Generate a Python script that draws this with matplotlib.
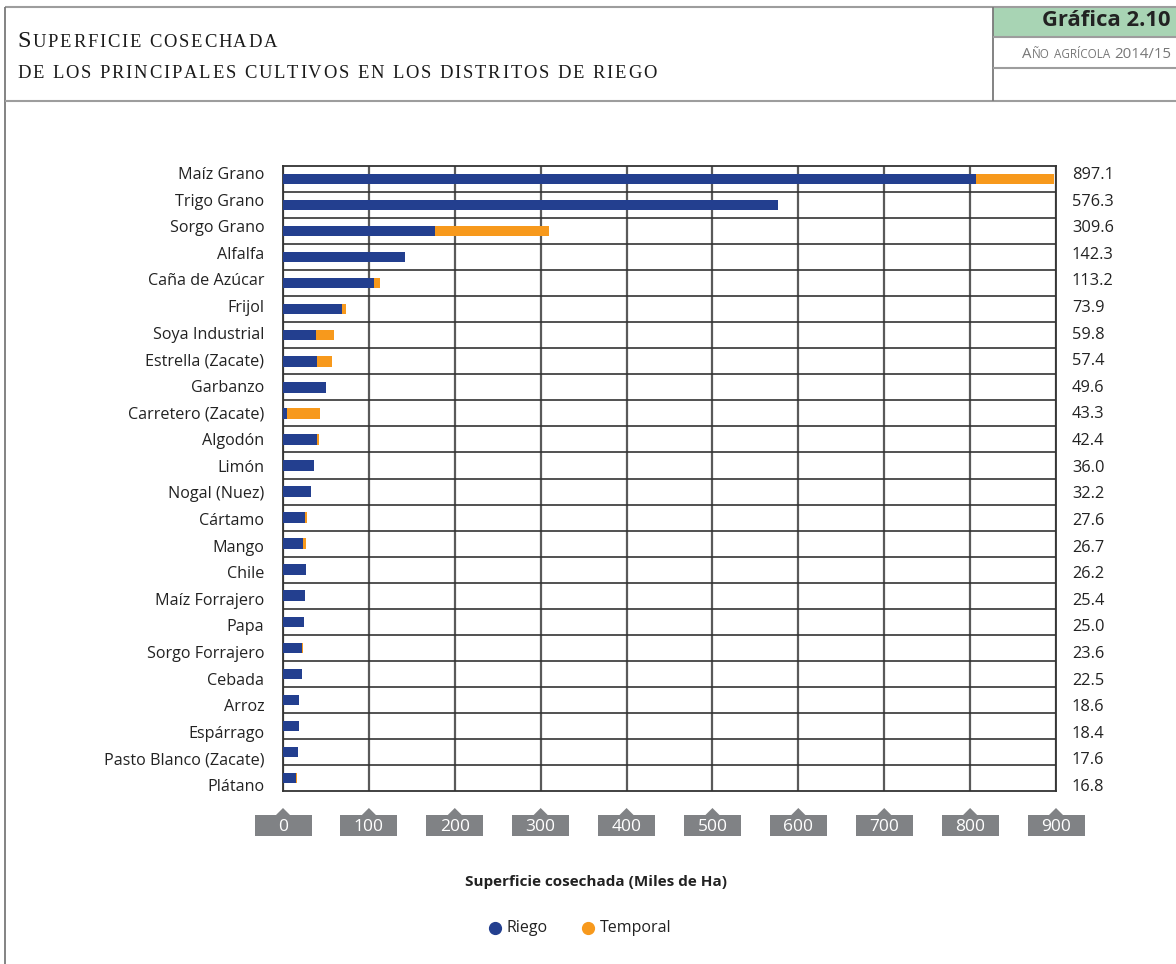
import matplotlib
matplotlib.use('Agg')
import matplotlib.pyplot as plt
from matplotlib.patches import Rectangle, Polygon
from matplotlib.lines import Line2D
import matplotlib.transforms as mtransforms

# ---------------- data ----------------
categories = ["Maíz Grano", "Trigo Grano", "Sorgo Grano", "Alfalfa", "Caña de Azúcar",
              "Frijol", "Soya Industrial", "Estrella (Zacate)", "Garbanzo",
              "Carretero (Zacate)", "Algodón", "Limón", "Nogal (Nuez)", "Cártamo",
              "Mango", "Chile", "Maíz Forrajero", "Papa", "Sorgo Forrajero", "Cebada",
              "Arroz", "Espárrago", "Pasto Blanco (Zacate)", "Plátano"]
totals = [897.1, 576.3, 309.6, 142.3, 113.2, 73.9, 59.8, 57.4, 49.6, 43.3, 42.4, 36.0,
          32.2, 27.6, 26.7, 26.2, 25.4, 25.0, 23.6, 22.5, 18.6, 18.4, 17.6, 16.8]
riego = [806.5, 576.3, 177.0, 142.3, 106.0, 69.0, 38.5, 39.6, 49.6, 4.3, 40.0, 36.0,
         32.2, 25.6, 23.3, 26.2, 25.1, 25.0, 22.4, 22.5, 18.6, 18.4, 17.6, 15.5]
temporal = [90.6, 0.0, 132.6, 0.0, 7.2, 4.9, 21.3, 17.8, 0.0, 39.0, 2.4, 0.0,
            0.0, 2.0, 3.4, 0.0, 0.3, 0.0, 1.2, 0.0, 0.0, 0.0, 0.0, 1.3]
series_names = ["Riego", "Temporal"]
xticks = [0, 100, 200, 300, 400, 500, 600, 700, 800, 900]
x_title = "Superficie cosechada (Miles de Ha)"
chart_no = "Gráfica 2.10"

BLUE = "#233f8f"
ORANGE = "#f7991c"
GREEN = "#a8d4b4"
FONT = "Open Sans"

W, H = 1176, 964
fig = plt.figure(figsize=(W / 100, H / 100), dpi=100)


def fx(px):
    return px / W


def fy(py):
    return 1 - py / H


def line(x0, y0, x1, y1, color="#9d9d9d", lw=1.5):
    fig.add_artist(Line2D([fx(x0), fx(x1)], [fy(y0), fy(y1)], color=color, lw=lw,
                          transform=fig.transFigure, solid_capstyle="butt"))


# ---------------- header frame ----------------
fig.add_artist(Rectangle((fx(993), fy(37)), fx(1176) - fx(993), fy(7) - fy(37),
                         transform=fig.transFigure, facecolor=GREEN, edgecolor="none"))
line(4.5, 7, 1176, 7)
line(4.5, 7, 4.5, 964, color="#7a7a7a", lw=1.3)
line(4.5, 101, 1176, 101)
line(993, 7, 993, 101, color="#7a7a7a", lw=1.3)
line(993, 37, 1176, 37)
line(993, 68, 1176, 68)

renderer = fig.canvas.get_renderer()


def draw_pieces(pieces, x, y, ha="left", color="#222222", family="Liberation Serif",
                weight="normal"):
    """pieces: list of (text, size, gap_after_px)"""
    arts = []
    widths = []
    for s, size, gap in pieces:
        t = fig.text(0, 0, s, fontsize=size, family=family, color=color,
                     va="baseline", ha="left", weight=weight)
        bb = t.get_window_extent(renderer)
        arts.append(t)
        widths.append(bb.width + gap)
    total = sum(widths)
    cur = x if ha == "left" else x - total
    for t, w in zip(arts, widths):
        t.set_position((fx(cur), fy(y)))
        cur += w


def spaced(text, size, track, space, big_first=None):
    """Split a string into per-character pieces with letter tracking."""
    out = []
    for i, ch in enumerate(text):
        if ch == " ":
            continue
        sz = big_first if (i == 0 and big_first) else size
        gap = track + (space if i + 1 < len(text) and text[i + 1] == " " else 0)
        out.append((ch, sz, gap))
    return out


# Title (small caps with tracking)
draw_pieces(spaced("SUPERFICIE COSECHADA", 13.4, 1.8, 6.5, big_first=17.5), 17, 47,
            color="#1a1a1a")
draw_pieces(spaced("DE LOS PRINCIPALES CULTIVOS EN LOS DISTRITOS DE RIEGO", 13.4, 1.85, 6.5),
            17, 78, color="#1a1a1a")

fig.text(fx(1171), fy(21), chart_no, fontsize=15.8, family=FONT, weight="bold",
         color="#222222", ha="right", va="center")
draw_pieces([("A", 10.8, 0.5), ("ÑO", 8.4, 4), ("AGRÍCOLA", 8.4, 4), ("2014/15", 10.8, 0)],
            1171, 58, ha="right", color="#777777", family=FONT)

# ---------------- main axes ----------------
ax_left, ax_right = 283, 1056
ax_top, ax_bot = 166, 791
ax = fig.add_axes([fx(ax_left), fy(ax_bot), fx(ax_right) - fx(ax_left),
                   (ax_bot - ax_top) / H])
n = len(categories)
ypos = list(range(n))
ax.barh(ypos, riego, height=0.4, color=BLUE, zorder=3)
ax.barh(ypos, temporal, left=riego, height=0.4, color=ORANGE, zorder=3)
ax.set_xlim(xticks[0], xticks[-1])
ax.set_ylim(n - 0.5, -0.5)
ax.set_xticks(xticks)
ax.set_xticklabels([])
ax.tick_params(axis="both", length=0, labelleft=False, labelbottom=False)
ax.set_yticks([])
ax.set_yticks([i + 0.5 for i in range(n - 1)], minor=True)
ax.tick_params(axis="y", which="minor", length=0)
ax.xaxis.grid(True, color="#5a5a5a", lw=1.6, zorder=1)
ax.yaxis.grid(True, which="minor", color="#333333", lw=1.2, zorder=1)
for sp in ax.spines.values():
    sp.set_color("#333333")
    sp.set_linewidth(1.3)

# ---------------- category / total labels (own axis) ----------------
lab_top, lab_bot = 159.7, 798.3
axl = fig.add_axes([fx(ax_left), fy(lab_bot), fx(ax_right) - fx(ax_left),
                    (lab_bot - lab_top) / H])
axl.patch.set_visible(False)
for sp in axl.spines.values():
    sp.set_visible(False)
axl.set_ylim(n - 0.5, -0.5)
axl.set_xticks([])
axl.set_yticks(ypos)
axl.set_yticklabels(categories, fontsize=11.6, family=FONT, color="#222222")
axl.tick_params(axis="y", length=0, pad=13.5)
axr = axl.twinx()
for sp in axr.spines.values():
    sp.set_visible(False)
axr.set_ylim(n - 0.5, -0.5)
axr.set_yticks(ypos)
axr.set_yticklabels([f"{v:.1f}" for v in totals], fontsize=11.8, family=FONT,
                    color="#222222")
axr.tick_params(axis="y", length=0, pad=11.5)

# ---------------- custom tick boxes ----------------
trans = mtransforms.blended_transform_factory(ax.transData, fig.transFigure)
ppu = (ax_right - ax_left) / (xticks[-1] - xticks[0])  # px per unit
bw = 57 / ppu
tw = 7.5 / ppu
for v in xticks:
    ax.add_patch(Rectangle((v - bw / 2, fy(836)), bw, fy(815) - fy(836), transform=trans,
                           facecolor="#808285", edgecolor="none", clip_on=False))
    ax.add_patch(Polygon([(v - tw, fy(815.5)), (v, fy(808)), (v + tw, fy(815.5))],
                         closed=True, transform=trans, facecolor="#808285",
                         edgecolor="none", clip_on=False))
    ax.text(v, fy(827), f"{v}", transform=trans, ha="center", va="center",
            fontsize=12.5, family=FONT, color="white", clip_on=False)

# axis title
fig.text(fx(596), fy(882), x_title, fontsize=11, family=FONT, weight="bold",
         color="#222222", ha="center", va="center")

# legend
leg_items = [(series_names[0], BLUE, 495), (series_names[1], ORANGE, 588)]
for name, col, px in leg_items:
    fig.add_artist(Line2D([fx(px)], [fy(928)], marker="o", ms=8.5, color=col,
                          linestyle="none", transform=fig.transFigure))
    fig.text(fx(px + 12), fy(928), name, fontsize=11.5, family=FONT, color="#222222",
             ha="left", va="center")

fig.savefig("out.png", dpi=100)
